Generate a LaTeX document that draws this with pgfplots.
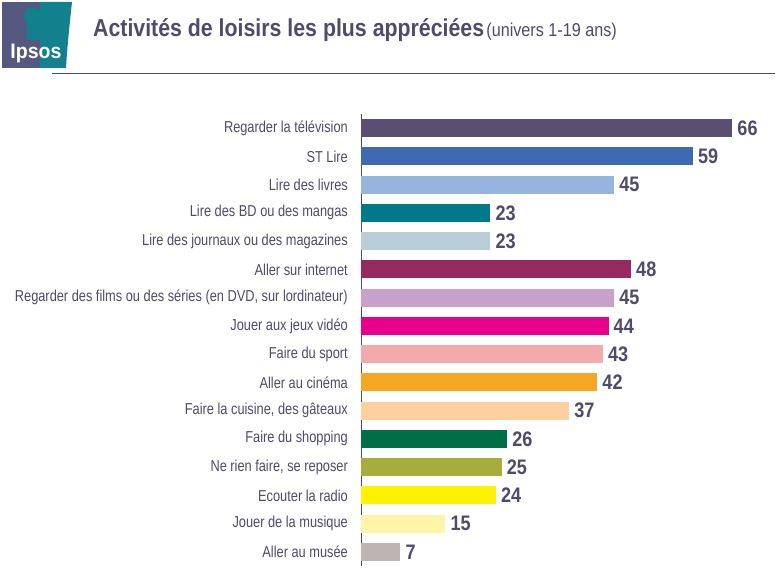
\documentclass[border=0pt]{standalone}
\usepackage{fontspec}
\setmainfont[FakeStretch=0.82]{Liberation Sans}
\newfontfamily\lblfont[FakeStretch=0.81]{Liberation Sans}
\newfontfamily\ttlfont[FakeStretch=0.87]{Liberation Sans}
\newfontfamily\valfont[FakeStretch=0.86]{Liberation Sans}
\newfontfamily\logofont[FakeStretch=0.93]{Liberation Sans}
\usepackage{pgfplots}
\pgfplotsset{compat=1.18}
\definecolor{txt}{HTML}{4F4B6C}
\definecolor{c1}{HTML}{5A4F72}
\definecolor{c2}{HTML}{3F69B0}
\definecolor{c3}{HTML}{95B5DF}
\definecolor{c4}{HTML}{007A8A}
\definecolor{c5}{HTML}{B8CDD8}
\definecolor{c6}{HTML}{962A60}
\definecolor{c7}{HTML}{C9A0CB}
\definecolor{c8}{HTML}{E8008A}
\definecolor{c9}{HTML}{F4A9AD}
\definecolor{c10}{HTML}{F5A623}
\definecolor{c11}{HTML}{FDD0A0}
\definecolor{c12}{HTML}{006E46}
\definecolor{c13}{HTML}{A7AD3D}
\definecolor{c14}{HTML}{FFF200}
\definecolor{c15}{HTML}{FFF5A8}
\definecolor{c16}{HTML}{BEB4B4}
\definecolor{slate}{HTML}{56597F}
\definecolor{teal2}{HTML}{13808D}
\begin{document}
\begin{tikzpicture}[x=1bp,y=-1bp]
\useasboundingbox (0,0) rectangle (779,573);
\fill[white] (0,0) rectangle (779,573);
% logo
\fill[slate] (2,2) rectangle (40,68);
\fill[teal2] (40,2) -- (72,2) .. controls (69,30) and (67,50) .. (66,68) -- (40,68) -- cycle;
\fill[teal2] (33,16) circle (9);
\fill[teal2] (27,20) rectangle (40,40);
\node[font=\logofont\bfseries\fontsize{21bp}{21bp}\selectfont, text=white, inner sep=0pt, anchor=base] at (36,59) {Ipsos};
% title
\node[anchor=base west, inner sep=0pt, text=txt] at (93,37) {{\ttlfont\bfseries\fontsize{24.5bp}{24.5bp}\selectfont Activités de loisirs les plus appréciées} {\ttlfont\fontsize{18.6bp}{18.6bp}\selectfont(univers 1-19 ans)}};
\draw[txt, line width=1bp] (52,74) -- (775,74);
\begin{axis}[
  at={(361bp,-566bp)}, anchor=south west,
  width=405bp, height=452bp, scale only axis,
  xmin=0, xmax=72, ymin=0.5, ymax=16.5, y dir=reverse,
  xbar, bar width=18bp, bar shift=0pt,
  axis x line=none, axis y line=left,
  y axis line style={-, draw=txt, line width=1bp},
  ytick={1,...,16}, major tick length=0pt,
  yticklabels={Regarder la télévision, ST Lire, Lire des livres, Lire des BD ou des mangas, Lire des journaux ou des magazines, Aller sur internet, {Regarder des films ou des séries (en DVD, sur lordinateur)}, Jouer aux jeux vidéo, Faire du sport, Aller au cinéma, {Faire la cuisine, des gâteaux}, Faire du shopping, {Ne rien faire, se reposer}, Ecouter la radio, Jouer de la musique, Aller au musée},
  yticklabel style={font=\lblfont\fontsize{15.8bp}{15.8bp}\selectfont, text=txt, inner sep=0pt, xshift=-13bp},
  /pgf/number format/assume math mode=true,
  nodes near coords, nodes near coords align=horizontal,
  every node near coord/.append style={font=\valfont\bfseries\fontsize{21bp}{21bp}\selectfont, text=txt, anchor=west, inner sep=0pt, xshift=5bp},
  clip=false,
]
\addplot[fill=c1, draw=none] coordinates {(66,1)};
\addplot[fill=c2, draw=none] coordinates {(59,2)};
\addplot[fill=c3, draw=none] coordinates {(45,3)};
\addplot[fill=c4, draw=none] coordinates {(23,4)};
\addplot[fill=c5, draw=none] coordinates {(23,5)};
\addplot[fill=c6, draw=none] coordinates {(48,6)};
\addplot[fill=c7, draw=none] coordinates {(45,7)};
\addplot[fill=c8, draw=none] coordinates {(44,8)};
\addplot[fill=c9, draw=none] coordinates {(43,9)};
\addplot[fill=c10, draw=none] coordinates {(42,10)};
\addplot[fill=c11, draw=none] coordinates {(37,11)};
\addplot[fill=c12, draw=none] coordinates {(26,12)};
\addplot[fill=c13, draw=none] coordinates {(25,13)};
\addplot[fill=c14, draw=none] coordinates {(24,14)};
\addplot[fill=c15, draw=none] coordinates {(15,15)};
\addplot[fill=c16, draw=none] coordinates {(7,16)};
\end{axis}
\end{tikzpicture}
\end{document}
